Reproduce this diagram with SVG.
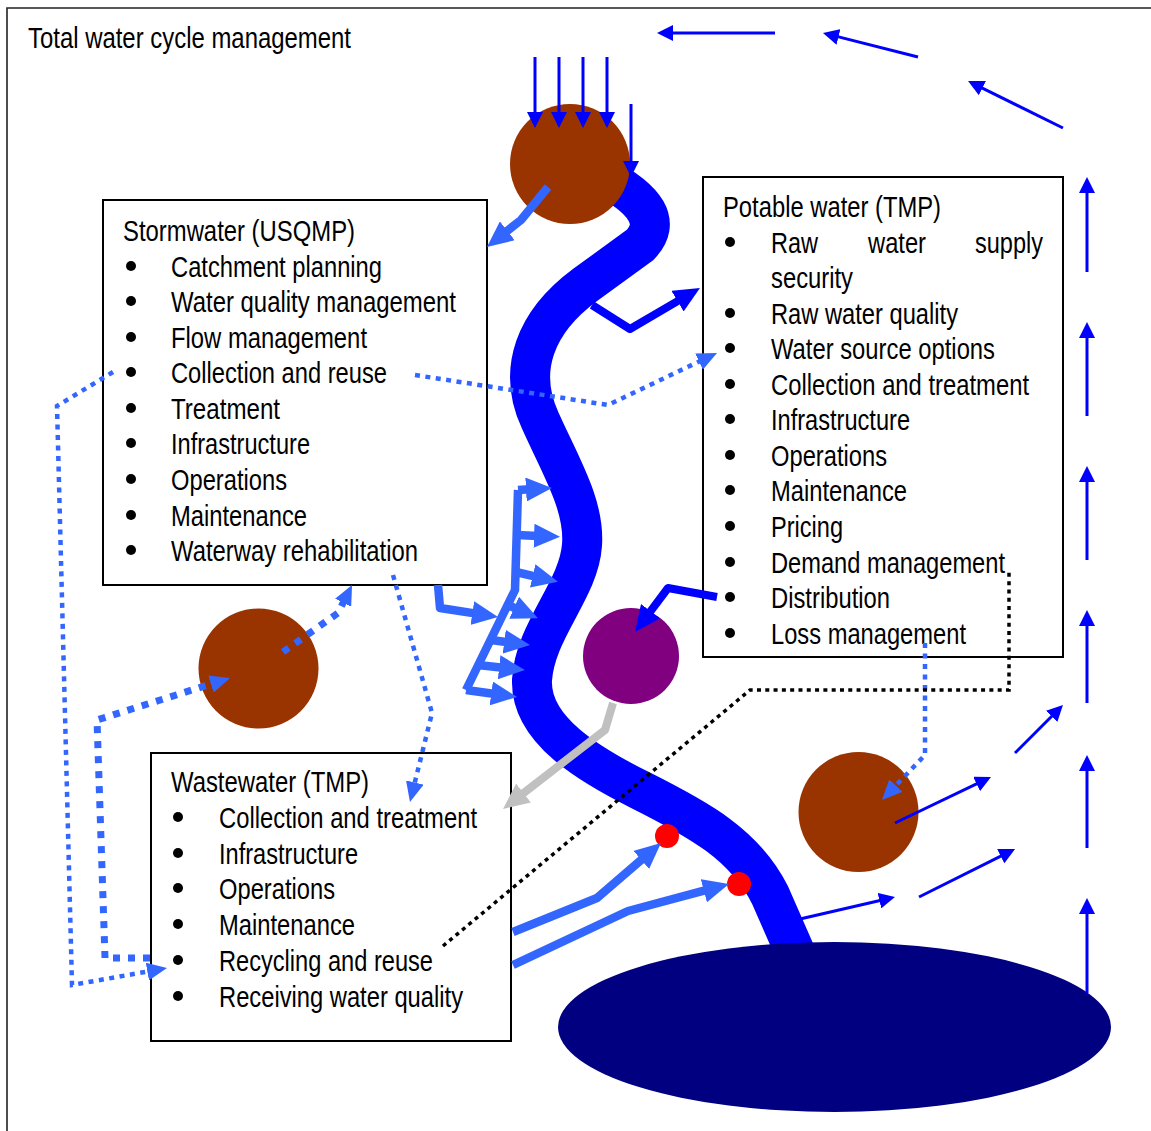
<svg xmlns="http://www.w3.org/2000/svg" width="1151" height="1131" viewBox="0 0 1151 1131">
  <style>
    .t { font-family: "Liberation Sans Narrow", "Liberation Sans", Arial, sans-serif; font-size: 29px; fill: #000; }
    .box { fill: #fff; stroke: #000; stroke-width: 2; }
    .bul { fill: #000; }
    .thin { fill: none; stroke: #0000FF; stroke-width: 3; }
    .lb { fill: none; stroke: #3366FF; stroke-width: 8.5; stroke-linejoin: round; }
    .db { fill: none; stroke: #0000FF; stroke-width: 8; stroke-linejoin: round; }
    .gr { fill: none; stroke: #C0C0C0; stroke-width: 8; stroke-linejoin: round; }
    .dt { fill: none; stroke: #3366FF; stroke-width: 4.5; stroke-dasharray: 5 5.5; }
    .dk { fill: none; stroke: #3366FF; stroke-width: 7; stroke-dasharray: 7 8; }
    .bd { fill: none; stroke: #000; stroke-width: 3.5; stroke-dasharray: 4 4.3; }
  </style>
  <defs>
    <marker id="hThin" markerUnits="userSpaceOnUse" markerWidth="16" markerHeight="16" refX="4" refY="8" orient="auto">
      <path d="M0,0 L16,8 L0,16 z" fill="#0000FF"/>
    </marker>
    <marker id="hLb" markerUnits="userSpaceOnUse" markerWidth="26" markerHeight="24" refX="4" refY="12" orient="auto">
      <path d="M0,0 L26,12 L0,24 z" fill="#3366FF"/>
    </marker>
    <marker id="hDb" markerUnits="userSpaceOnUse" markerWidth="26" markerHeight="24" refX="4" refY="12" orient="auto">
      <path d="M0,0 L26,12 L0,24 z" fill="#0000FF"/>
    </marker>
    <marker id="hGr" markerUnits="userSpaceOnUse" markerWidth="26" markerHeight="24" refX="4" refY="12" orient="auto">
      <path d="M0,0 L26,12 L0,24 z" fill="#C0C0C0"/>
    </marker>
    <marker id="hDot" markerUnits="userSpaceOnUse" markerWidth="20" markerHeight="18" refX="2" refY="9" orient="auto">
      <path d="M0,0 L20,9 L0,18 z" fill="#3366FF"/>
    </marker>
  </defs>

  <rect width="1151" height="1131" fill="#fff"/>

  <!-- outer frame -->
  <path d="M7,1131 L7,8 L1151,8" fill="none" stroke="#222" stroke-width="1.6"/>

  <g id="title">
    <text class="t" x="28" y="48" textLength="323" lengthAdjust="spacingAndGlyphs">Total water cycle management</text>
  </g>

  <!-- river, lake and reservoirs -->
  <g id="river">
    <path d="M600,175 Q672,212 640,245 L585,285 C535,322 517,370 540,420 C560,465 585,505 582,545 C579,590 535,630 532,680 C530,730 590,765 640,790 C700,820 745,845 770,895 L795,952" fill="none" stroke="#0000FF" stroke-width="40"/>
  </g>
  <g id="lake">
    <ellipse cx="834.5" cy="1027" rx="276.5" ry="85" fill="#000080"/>
  </g>
  <g id="catchment-top">
    <circle cx="570" cy="164" r="60" fill="#993300"/>
  </g>
  <g id="catchment-left">
    <circle cx="258.5" cy="668.5" r="60" fill="#993300"/>
  </g>
  <g id="catchment-right">
    <circle cx="858.5" cy="812" r="60" fill="#993300"/>
  </g>
  <g id="consumers">
    <circle cx="631" cy="656" r="48" fill="#800080"/>
  </g>
  <g id="outfall-1">
    <circle cx="667" cy="836" r="12" fill="#FF0000"/>
  </g>
  <g id="outfall-2">
    <circle cx="739" cy="884" r="12" fill="#FF0000"/>
  </g>

  <!-- management boxes -->
  <g id="stormwater">
    <rect class="box" x="103" y="200" width="384" height="385"/>
    <text class="t" x="123" y="241" textLength="232" lengthAdjust="spacingAndGlyphs">Stormwater (USQMP)</text>
    <g class="bul">
      <circle cx="131" cy="266" r="5"/>
      <circle cx="131" cy="301" r="5"/>
      <circle cx="131" cy="337" r="5"/>
      <circle cx="131" cy="372" r="5"/>
      <circle cx="131" cy="408" r="5"/>
      <circle cx="131" cy="443" r="5"/>
      <circle cx="131" cy="479" r="5"/>
      <circle cx="131" cy="515" r="5"/>
      <circle cx="131" cy="550" r="5"/>
    </g>
    <text class="t" x="171" y="277" textLength="211" lengthAdjust="spacingAndGlyphs">Catchment planning</text>
    <text class="t" x="171" y="312" textLength="285" lengthAdjust="spacingAndGlyphs">Water quality management</text>
    <text class="t" x="171" y="348" textLength="196" lengthAdjust="spacingAndGlyphs">Flow management</text>
    <text class="t" x="171" y="383" textLength="216" lengthAdjust="spacingAndGlyphs">Collection and reuse</text>
    <text class="t" x="171" y="419" textLength="109" lengthAdjust="spacingAndGlyphs">Treatment</text>
    <text class="t" x="171" y="454" textLength="139" lengthAdjust="spacingAndGlyphs">Infrastructure</text>
    <text class="t" x="171" y="490" textLength="116" lengthAdjust="spacingAndGlyphs">Operations</text>
    <text class="t" x="171" y="526" textLength="136" lengthAdjust="spacingAndGlyphs">Maintenance</text>
    <text class="t" x="171" y="561" textLength="247" lengthAdjust="spacingAndGlyphs">Waterway rehabilitation</text>
  </g>

  <g id="potable">
    <rect class="box" x="703" y="177" width="360" height="480"/>
    <text class="t" x="723" y="217" textLength="218" lengthAdjust="spacingAndGlyphs">Potable water (TMP)</text>
    <g class="bul">
      <circle cx="730" cy="242" r="5"/>
      <circle cx="730" cy="313" r="5"/>
      <circle cx="730" cy="348" r="5"/>
      <circle cx="730" cy="384" r="5"/>
      <circle cx="730" cy="419" r="5"/>
      <circle cx="730" cy="455" r="5"/>
      <circle cx="730" cy="490" r="5"/>
      <circle cx="730" cy="526" r="5"/>
      <circle cx="730" cy="562" r="5"/>
      <circle cx="730" cy="597" r="5"/>
      <circle cx="730" cy="633" r="5"/>
    </g>
    <text class="t" x="771" y="253" textLength="47" lengthAdjust="spacingAndGlyphs">Raw</text>
    <text class="t" x="868" y="253" textLength="58" lengthAdjust="spacingAndGlyphs">water</text>
    <text class="t" x="975" y="253" textLength="68" lengthAdjust="spacingAndGlyphs">supply</text>
    <text class="t" x="771" y="288" textLength="82" lengthAdjust="spacingAndGlyphs">security</text>
    <text class="t" x="771" y="324" textLength="187" lengthAdjust="spacingAndGlyphs">Raw water quality</text>
    <text class="t" x="771" y="359" textLength="224" lengthAdjust="spacingAndGlyphs">Water source options</text>
    <text class="t" x="771" y="395" textLength="258" lengthAdjust="spacingAndGlyphs">Collection and treatment</text>
    <text class="t" x="771" y="430" textLength="139" lengthAdjust="spacingAndGlyphs">Infrastructure</text>
    <text class="t" x="771" y="466" textLength="116" lengthAdjust="spacingAndGlyphs">Operations</text>
    <text class="t" x="771" y="501" textLength="136" lengthAdjust="spacingAndGlyphs">Maintenance</text>
    <text class="t" x="771" y="537" textLength="72" lengthAdjust="spacingAndGlyphs">Pricing</text>
    <text class="t" x="771" y="573" textLength="234" lengthAdjust="spacingAndGlyphs">Demand management</text>
    <text class="t" x="771" y="608" textLength="119" lengthAdjust="spacingAndGlyphs">Distribution</text>
    <text class="t" x="771" y="644" textLength="195" lengthAdjust="spacingAndGlyphs">Loss management</text>
  </g>

  <g id="wastewater">
    <rect class="box" x="151" y="753" width="360" height="288"/>
    <text class="t" x="171" y="792" textLength="198" lengthAdjust="spacingAndGlyphs">Wastewater (TMP)</text>
    <g class="bul">
      <circle cx="178" cy="817" r="5"/>
      <circle cx="178" cy="853" r="5"/>
      <circle cx="178" cy="888" r="5"/>
      <circle cx="178" cy="924" r="5"/>
      <circle cx="178" cy="960" r="5"/>
      <circle cx="178" cy="996" r="5"/>
    </g>
    <text class="t" x="219" y="828" textLength="258" lengthAdjust="spacingAndGlyphs">Collection and treatment</text>
    <text class="t" x="219" y="864" textLength="139" lengthAdjust="spacingAndGlyphs">Infrastructure</text>
    <text class="t" x="219" y="899" textLength="116" lengthAdjust="spacingAndGlyphs">Operations</text>
    <text class="t" x="219" y="935" textLength="136" lengthAdjust="spacingAndGlyphs">Maintenance</text>
    <text class="t" x="219" y="971" textLength="214" lengthAdjust="spacingAndGlyphs">Recycling and reuse</text>
    <text class="t" x="219" y="1007" textLength="244" lengthAdjust="spacingAndGlyphs">Receiving water quality</text>
  </g>

  <g id="connectors">
    <!-- rainfall -->
    <line class="thin" x1="535" y1="57" x2="535" y2="116" marker-end="url(#hThin)"/>
    <line class="thin" x1="559" y1="57" x2="559" y2="116" marker-end="url(#hThin)"/>
    <line class="thin" x1="583" y1="57" x2="583" y2="116" marker-end="url(#hThin)"/>
    <line class="thin" x1="607" y1="57" x2="607" y2="116" marker-end="url(#hThin)"/>
    <line class="thin" x1="631" y1="104" x2="631" y2="165" marker-end="url(#hThin)"/>

    <!-- evaporation loop along the top and right -->
    <line class="thin" x1="775" y1="33" x2="669" y2="33" marker-end="url(#hThin)"/>
    <line class="thin" x1="918" y1="57" x2="834.6" y2="35.9" marker-end="url(#hThin)"/>
    <line class="thin" x1="1063" y1="128" x2="978.8" y2="86.3" marker-end="url(#hThin)"/>
    <line class="thin" x1="1087" y1="272" x2="1087" y2="189" marker-end="url(#hThin)"/>
    <line class="thin" x1="1087" y1="416" x2="1087" y2="334" marker-end="url(#hThin)"/>
    <line class="thin" x1="1087" y1="560" x2="1087" y2="478" marker-end="url(#hThin)"/>
    <line class="thin" x1="1087" y1="703" x2="1087" y2="622" marker-end="url(#hThin)"/>
    <line class="thin" x1="1087" y1="848" x2="1087" y2="767" marker-end="url(#hThin)"/>
    <line class="thin" x1="1087" y1="993" x2="1087" y2="910" marker-end="url(#hThin)"/>
    <line class="thin" x1="1015" y1="753" x2="1054.5" y2="713.5" marker-end="url(#hThin)"/>
    <line class="thin" x1="895" y1="823" x2="980.2" y2="782.2" marker-end="url(#hThin)"/>
    <line class="thin" x1="919" y1="897" x2="1004.3" y2="854.4" marker-end="url(#hThin)"/>
    <line class="thin" x1="800" y1="919" x2="883.3" y2="899.7" marker-end="url(#hThin)"/>

    <!-- runoff from the upper catchment -->
    <path class="lb" d="M548,187 L521,220 L504.2,233.3" marker-end="url(#hLb)"/>

    <!-- supply offtake to potable water -->
    <path class="db" d="M592,305 L630,329 L681,299.1" marker-end="url(#hDb)"/>

    <!-- stormwater discharges to the river -->
    <path class="lb" d="M438,585 L440,608 L476.3,613.6" marker-end="url(#hLb)"/>
    <path class="lb" d="M518,490 L515,590 L466,690"/>
    <path class="lb" d="M518,490 L530,489.3" marker-end="url(#hLb)"/>
    <path class="lb" d="M517,535 L538,535.9" marker-end="url(#hLb)"/>
    <path class="lb" d="M516,572 L536.6,576.8" marker-end="url(#hLb)"/>
    <path class="lb" d="M508,605 L517.8,609.3" marker-end="url(#hLb)"/>
    <path class="lb" d="M491,640 L508.2,642.2" marker-end="url(#hLb)"/>
    <path class="lb" d="M478,665 L503.1,667.7" marker-end="url(#hLb)"/>
    <path class="lb" d="M466,690 L495.2,694" marker-end="url(#hLb)"/>

    <!-- distribution to consumers and sewage return -->
    <path class="db" d="M717,597 L668,588 L648.2,614.4" marker-end="url(#hDb)"/>
    <path class="gr" d="M613,703 L605,730 L520.4,795.5" marker-end="url(#hGr)"/>

    <!-- treated effluent outfalls -->
    <path class="lb" d="M513,932 L597,898 L644.3,857.3" marker-end="url(#hLb)"/>
    <path class="lb" d="M513,965 L628,911 L707.7,889.7" marker-end="url(#hLb)"/>

    <!-- reuse links -->
    <path class="dt" d="M415,375 L608,405 L700.8,360.7" marker-end="url(#hDot)"/>
    <path class="dt" d="M113,372 L57,406 L72,985 L149.3,971.2" marker-end="url(#hDot)"/>
    <path class="dk" d="M150,958 L105,958 L97,720 L212.8,683.4" marker-end="url(#hDot)"/>
    <path class="dk" d="M283,652 L338,613 L344,601" marker-end="url(#hDot)"/>
    <path class="dt" d="M393,575 L432,713 L414.3,784.5" marker-end="url(#hDot)"/>
    <path class="dt" d="M925,643 L925,755 L894.4,787" marker-end="url(#hDot)"/>
    <path class="bd" d="M443,946 L750,690 L1009,690 L1009,572"/>
  </g>
</svg>
